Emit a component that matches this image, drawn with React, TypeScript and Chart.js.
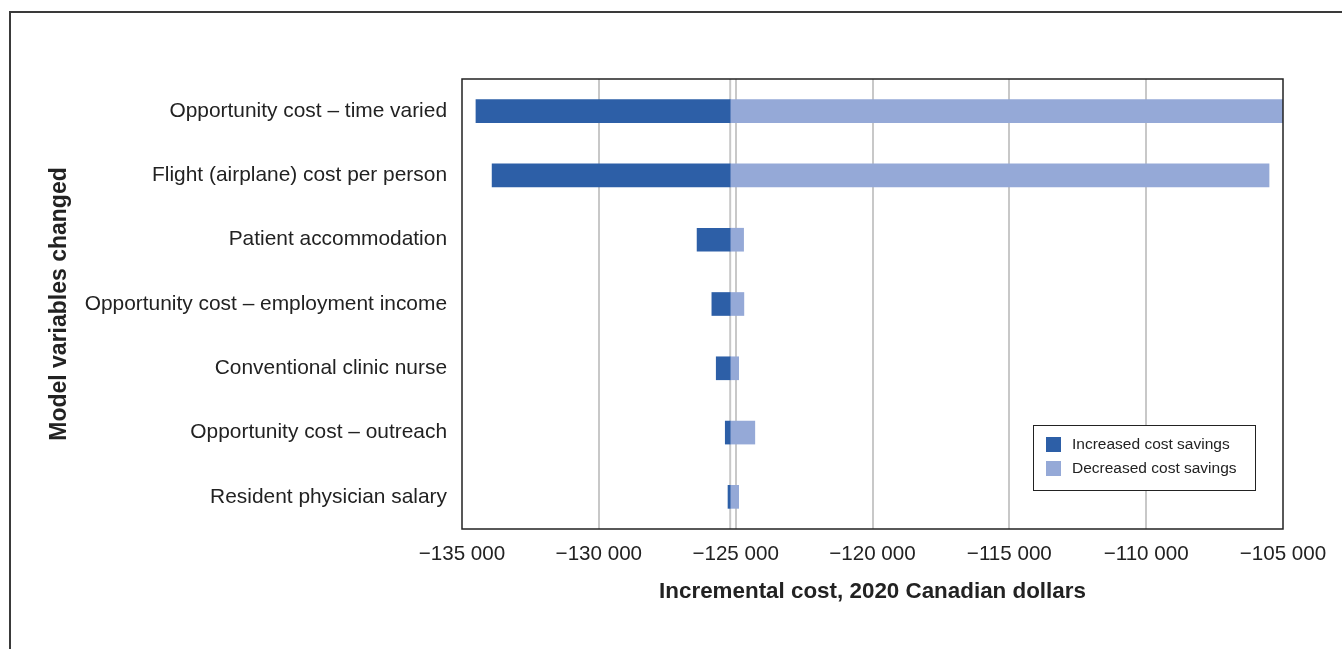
import React, { useEffect, useRef } from "react";
import { Chart, registerables } from "chart.js";

Chart.register(...registerables);

const categories = [
  "Opportunity cost – time varied",
  "Flight (airplane) cost per person",
  "Patient accommodation",
  "Opportunity cost – employment income",
  "Conventional clinic nurse",
  "Opportunity cost – outreach",
  "Resident physician salary",
];
const baseCost = -125200;
const increasedSavings = [-134490, -133900, -126410, -125870, -125710, -125380, -125280];
const decreasedSavings = [-105000, -105510, -124710, -124700, -124890, -124300, -124890];
const xTicks = [-135000, -130000, -125000, -120000, -115000, -110000, -105000];
const seriesLabels = ["Increased cost savings", "Decreased cost savings"];
const seriesColors = ["#2d5fa7", "#95a9d7"];
const xTitle = "Incremental cost, 2020 Canadian dollars";
const yTitle = "Model variables changed";

const FONT = "'Liberation Sans', Arial, Helvetica, sans-serif";
const TEXT = "#222222";
const GRID = "#c8c8c8";

function fmt(v: number): string {
  const s = String(Math.abs(v)).replace(/\B(?=(\d{3})+(?!\d))/g, " ");
  return (v < 0 ? "\u2212" : "") + s;
}

const framePlugin = {
  id: "frameAndLegend",
  beforeDatasetsDraw(chart: any) {
    const { ctx, chartArea } = chart;
    const x = chart.scales.x.getPixelForValue(baseCost);
    ctx.save();
    ctx.strokeStyle = GRID;
    ctx.lineWidth = 2;
    ctx.beginPath();
    ctx.moveTo(x, chartArea.top);
    ctx.lineTo(x, chartArea.bottom);
    ctx.stroke();
    ctx.restore();
  },
  afterDraw(chart: any) {
    const { ctx, chartArea } = chart;
    ctx.save();
    // plot frame
    ctx.strokeStyle = "#222";
    ctx.lineWidth = 1.5;
    ctx.strokeRect(chartArea.left, chartArea.top, chartArea.right - chartArea.left, chartArea.bottom - chartArea.top);
    // legend
    const w = 222;
    const h = 65;
    const right = chartArea.right - 28;
    const bottom = chartArea.bottom - 39;
    const left = right - w;
    const top = bottom - h;
    ctx.fillStyle = "#fff";
    ctx.fillRect(left, top, w, h);
    ctx.strokeStyle = "#222";
    ctx.lineWidth = 1;
    ctx.strokeRect(left + 0.5, top + 0.5, w, h);
    ctx.font = `15.5px ${FONT}`;
    ctx.textBaseline = "middle";
    ctx.textAlign = "left";
    seriesLabels.forEach((lab, i) => {
      const sy = top + 12 + i * 24;
      ctx.fillStyle = seriesColors[i];
      ctx.fillRect(left + 13, sy, 15, 15);
      ctx.fillStyle = TEXT;
      ctx.fillText(lab, left + 39, sy + 7.5);
    });
    ctx.restore();
  },
};

export default function App() {
  const ref = useRef<HTMLCanvasElement | null>(null);

  useEffect(() => {
    if (!ref.current) return;
    const chart = new Chart(ref.current, {
      type: "bar",
      data: {
        labels: categories,
        datasets: [
          {
            label: seriesLabels[0],
            data: categories.map((_, i) => [increasedSavings[i], baseCost]) as any,
            backgroundColor: seriesColors[0],
            barThickness: 23,
            grouped: false,
          } as any,
          {
            label: seriesLabels[1],
            data: categories.map((_, i) => [baseCost, decreasedSavings[i]]) as any,
            backgroundColor: seriesColors[1],
            barThickness: 23,
            grouped: false,
          } as any,
        ],
      },
      options: {
        indexAxis: "y",
        animation: false,
        responsive: false,
        maintainAspectRatio: false,
        layout: { padding: { top: 79, right: 59, left: 0, bottom: 0 } },
        plugins: {
          legend: { display: false },
          tooltip: { enabled: false },
        },
        scales: {
          x: {
            type: "linear",
            min: xTicks[0],
            max: xTicks[xTicks.length - 1],
            afterBuildTicks: (s: any) => {
              s.ticks = xTicks.map((v) => ({ value: v }));
            },
            afterFit: (s: any) => {
              s.height = 120;
            },
            ticks: {
              callback: (v: any) => fmt(Number(v)),
              font: { family: FONT, size: 20.6 },
              color: TEXT,
              padding: 13,
              maxRotation: 0,
              autoSkip: false,
            },
            grid: {
              color: (c: any) =>
                c.tick && (c.tick.value === xTicks[0] || c.tick.value === xTicks[xTicks.length - 1])
                  ? "rgba(0,0,0,0)"
                  : GRID,
              lineWidth: 2,
              drawTicks: false,
            },
            border: { display: false },
            title: {
              display: true,
              text: xTitle,
              font: { family: FONT, size: 22.4, weight: "bold" },
              color: TEXT,
              padding: { top: 0, bottom: 44 },
            },
          },
          y: {
            afterFit: (s: any) => {
              s.width = 462;
            },
            ticks: {
              font: { family: FONT, size: 20.9 },
              color: TEXT,
              padding: 15,
              autoSkip: false,
            },
            grid: { display: false, drawTicks: false },
            border: { display: false },
            title: {
              display: true,
              text: yTitle,
              font: { family: FONT, size: 23, weight: "bold" },
              color: TEXT,
              padding: { top: 46, bottom: 0 },
            },
          },
        },
      } as any,
      plugins: [framePlugin],
    });
    return () => chart.destroy();
  }, []);

  return (
    <div style={{ position: "fixed", inset: 0, overflow: "hidden", background: "#fff" }}>
      <div
        style={{
          position: "absolute",
          left: 9,
          top: 11,
          width: 3000,
          height: 3000,
          borderLeft: "2px solid #3a3a3a",
          borderTop: "2px solid #3a3a3a",
        }}
      />
      <canvas
        ref={ref}
        width={1342}
        height={649}
        style={{ position: "absolute", left: 0, top: 0, display: "block" }}
      />
    </div>
  );
}
